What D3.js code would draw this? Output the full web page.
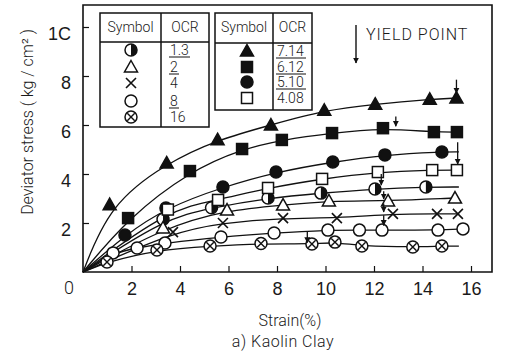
<!DOCTYPE html>
<html>
<head>
<meta charset="utf-8">
<script src="https://cdn.jsdelivr.net/npm/d3@7"></script>
<style>
  html, body { margin: 0; padding: 0; background: #fff; }
  svg { display: block; font-family: Roboto, "Liberation Sans", Arial, sans-serif; font-weight: 300; }
</style>
</head>
<body>
<svg id="chart" width="507" height="352"></svg>
<script>
// Axis ticks
const xTicks = [2, 4, 6, 8, 10, 12, 14, 16];
const yTicks = [2, 4, 6, 8, 10];
const yTickLabels = ["2", "4", "6", "8", "1C"];

// Series: OCR label, marker type, strain (%) and deviator stress (kg/cm²)
const ocrLabels = ["1.3", "2", "4", "8", "16", "7.14", "6.12", "5.10", "4.08"];
const markerTypes = ["half", "openTri", "cross", "openCircle", "crossCircle",
                     "filledTri", "filledSquare", "filledCircle", "openSquare"];

const strain_13   = [3.3, 5.3, 7.63, 9.81, 12.04, 14.14];
const stress_13   = [2.15, 2.62, 3.02, 3.22, 3.39, 3.47];
const strain_2    = [3.3, 5.94, 8.25, 10.14, 12.58, 15.34];
const stress_2    = [1.8, 2.53, 2.73, 2.9, 2.9, 3.02];
const strain_4    = [3.71, 5.77, 8.25, 10.47, 12.78, 14.6, 15.46];
const stress_4    = [1.63, 2.0, 2.2, 2.2, 2.37, 2.37, 2.37];
const strain_8    = [1.24, 2.23, 3.38, 5.69, 7.88, 10.1, 11.4, 12.33, 14.64, 15.67];
const stress_8    = [0.78, 0.98, 1.18, 1.43, 1.59, 1.71, 1.71, 1.71, 1.71, 1.76];
const strain_16   = [0.99, 3.05, 5.24, 7.34, 9.44, 10.39, 11.5, 13.6, 14.8];
const stress_16   = [0.41, 0.9, 1.06, 1.16, 1.14, 1.22, 1.06, 1.02, 1.06];
const strain_714  = [1.1, 3.45, 5.55, 7.75, 9.95, 12.05, 14.3, 15.4];
const stress_714  = [2.75, 4.45, 5.4, 6.0, 6.6, 6.85, 7.05, 7.1];
const strain_612  = [1.86, 4.41, 6.56, 8.2, 10.27, 12.37, 14.47, 15.42];
const stress_612  = [2.2, 4.12, 5.02, 5.39, 5.67, 5.87, 5.71, 5.71];
const strain_510  = [1.73, 3.42, 5.77, 7.96, 10.3, 12.45, 14.8];
const stress_510  = [1.51, 2.61, 3.47, 4.08, 4.49, 4.78, 4.9];
const strain_408  = [3.5, 5.57, 7.63, 9.86, 12.16, 14.4, 15.42];
const stress_408  = [2.55, 2.94, 3.43, 3.8, 4.08, 4.16, 4.16];

const strains  = [strain_13, strain_2, strain_4, strain_8, strain_16, strain_714, strain_612, strain_510, strain_408];
const stresses = [stress_13, stress_2, stress_4, stress_8, stress_16, stress_714, stress_612, stress_510, stress_408];

// Yield point arrows: strain, stress at tail, stress at head
const yieldX    = [15.4, 12.9, 15.45, 12.3, 12.4, 12.4, 12.4, 9.25];
const yieldFrom = [7.85, 6.35, 5.3, 4.0, 3.3, 2.8, 2.32, 1.65];
const yieldTo   = [7.3, 5.95, 4.4, 3.55, 2.98, 2.45, 1.9, 1.2];

const svg = d3.select("#chart");
const x = d3.scaleLinear().domain([0, 16]).range([83, 471]);
const y = d3.scaleLinear().domain([0, 10]).range([272, 27]);
const ink = "#111";
const txt = "#1a1a1a";

svg.append("defs").append("marker")
  .attr("id", "arrowhead").attr("viewBox", "0 0 10 10")
  .attr("refX", 9).attr("refY", 5)
  .attr("markerWidth", 6).attr("markerHeight", 7)
  .attr("markerUnits", "userSpaceOnUse")
  .attr("orient", "auto")
  .append("path").attr("d", "M0,0 L10,5 L0,10 Z").attr("fill", ink);

// Frame
svg.append("path")
  .attr("d", `M${x(0)},${y(0)} V5 H492 V${y(0)} Z`)
  .attr("fill", "none").attr("stroke", ink).attr("stroke-width", 1.6);

// Axes with inward ticks
const xAxis = d3.axisBottom(x).tickValues(xTicks).tickSizeInner(-6).tickSizeOuter(0).tickPadding(10);
const gx = svg.append("g").attr("transform", `translate(0,${y(0)})`).call(xAxis);
gx.select(".domain").remove();
gx.selectAll("line").attr("stroke", ink).attr("stroke-width", 1.2);
gx.selectAll("text").attr("font-size", 18).attr("fill", txt).attr("font-family", null);

const yAxis = d3.axisLeft(y).tickValues(yTicks).tickFormat((d, i) => yTickLabels[i])
  .tickSizeInner(-6).tickSizeOuter(0).tickPadding(12);
const gy = svg.append("g").attr("transform", `translate(${x(0)},0)`).call(yAxis);
gy.select(".domain").remove();
gy.selectAll("line").attr("stroke", ink).attr("stroke-width", 1.2);
gy.selectAll("text").attr("font-size", 18).attr("fill", txt).attr("dy", "0.7em")
  .attr("font-family", null);

svg.append("text").attr("x", 69).attr("y", 294).attr("text-anchor", "middle")
  .attr("font-size", 18).attr("fill", txt).text("0");

// Axis titles
svg.append("text")
  .attr("transform", "translate(33,122) rotate(-90)")
  .attr("text-anchor", "middle").attr("font-size", 16).attr("fill", txt)
  .text("Deviator stress ( kg / cm² )");
svg.append("text").attr("x", 290).attr("y", 326).attr("text-anchor", "middle")
  .attr("font-size", 16).attr("fill", txt).text("Strain(%)");
svg.append("text").attr("x", 283).attr("y", 347).attr("text-anchor", "middle")
  .attr("font-size", 16).attr("fill", txt).attr("letter-spacing", 0.5).text("a)  Kaolin Clay");

// Marker drawing
function drawMarker(g, type, cx, cy) {
  const r = 6;
  if (type === "filledCircle" || type === "openCircle") {
    g.append("circle").attr("cx", cx).attr("cy", cy).attr("r", r)
      .attr("fill", type === "filledCircle" ? ink : "#fff").attr("stroke", ink).attr("stroke-width", 1.5);
  } else if (type === "half") {
    g.append("circle").attr("cx", cx).attr("cy", cy).attr("r", r)
      .attr("fill", "#fff").attr("stroke", ink).attr("stroke-width", 1.5);
    g.append("path").attr("d", `M${cx},${cy - r} A${r},${r} 0 0 1 ${cx},${cy + r} Z`).attr("fill", ink);
  } else if (type === "crossCircle") {
    const k = r * 0.62;
    g.append("circle").attr("cx", cx).attr("cy", cy).attr("r", r)
      .attr("fill", "#fff").attr("stroke", ink).attr("stroke-width", 1.5);
    g.append("path").attr("d", `M${cx - k},${cy - k}L${cx + k},${cy + k}M${cx + k},${cy - k}L${cx - k},${cy + k}`)
      .attr("stroke", ink).attr("stroke-width", 1.4);
  } else if (type === "filledTri" || type === "openTri") {
    g.append("path").attr("d", `M${cx},${cy - 6.5}L${cx + 6.5},${cy + 5}L${cx - 6.5},${cy + 5}Z`)
      .attr("fill", type === "filledTri" ? ink : "#fff").attr("stroke", ink).attr("stroke-width", 1.5);
  } else if (type === "filledSquare" || type === "openSquare") {
    g.append("rect").attr("x", cx - 5.5).attr("y", cy - 5.5).attr("width", 11).attr("height", 11)
      .attr("fill", type === "filledSquare" ? ink : "#fff").attr("stroke", ink).attr("stroke-width", 1.5);
  } else if (type === "cross") {
    g.append("path").attr("d", `M${cx - 5},${cy - 5}L${cx + 5},${cy + 5}M${cx + 5},${cy - 5}L${cx - 5},${cy + 5}`)
      .attr("stroke", ink).attr("stroke-width", 1.6);
  }
}

// Smoothed curves from the origin through each series, run out to the end of testing
const lineEnd = 15.5;
const line = d3.line().x(d => x(d[0])).y(d => y(d[1])).curve(d3.curveBasis);
const curves = svg.append("g");
strains.forEach((xs, i) => {
  const pts = [[0, 0]].concat(xs.map((v, j) => [v, stresses[i][j]]));
  const last = pts[pts.length - 1];
  if (last[0] < lineEnd) pts.push([lineEnd, last[1]]);
  curves.append("path").attr("d", line(pts))
    .attr("fill", "none").attr("stroke", ink).attr("stroke-width", 1.3);
});

// Markers
const marks = svg.append("g");
strains.forEach((xs, i) => {
  xs.forEach((v, j) => drawMarker(marks, markerTypes[i], x(v), y(stresses[i][j])));
});

// Yield arrows
const arrows = svg.append("g");
yieldX.forEach((v, i) => {
  arrows.append("line")
    .attr("x1", x(v)).attr("x2", x(v))
    .attr("y1", y(yieldFrom[i])).attr("y2", y(yieldTo[i]))
    .attr("stroke", ink).attr("stroke-width", 1.3).attr("marker-end", "url(#arrowhead)");
});

// YIELD POINT key
svg.append("line").attr("x1", 356).attr("x2", 356).attr("y1", 25).attr("y2", 63)
  .attr("stroke", ink).attr("stroke-width", 1.4).attr("marker-end", "url(#arrowhead)");
svg.append("text").attr("x", 366).attr("y", 40).attr("font-size", 16)
  .attr("letter-spacing", 1).attr("fill", txt).text("YIELD POINT");

// Legend tables
function drawTable(spec) {
  const g = svg.append("g");
  g.append("rect").attr("x", spec.x0).attr("y", spec.y0)
    .attr("width", spec.x1 - spec.x0).attr("height", spec.y1 - spec.y0)
    .attr("fill", "#fff").attr("stroke", ink).attr("stroke-width", 1.5);
  g.append("line").attr("x1", spec.x0).attr("x2", spec.x1).attr("y1", spec.hy).attr("y2", spec.hy)
    .attr("stroke", ink).attr("stroke-width", 1.5);
  g.append("line").attr("x1", spec.xd).attr("x2", spec.xd).attr("y1", spec.y0).attr("y2", spec.y1)
    .attr("stroke", ink).attr("stroke-width", 1.5);
  g.append("text").attr("x", (spec.x0 + spec.xd) / 2).attr("y", spec.y0 + 19)
    .attr("text-anchor", "middle").attr("font-size", 14).attr("fill", txt).text("Symbol");
  g.append("text").attr("x", (spec.xd + spec.x1) / 2).attr("y", spec.y0 + 19)
    .attr("text-anchor", "middle").attr("font-size", 14).attr("fill", txt).text("OCR");
  spec.items.forEach((idx, k) => {
    const ry = spec.rows[k];
    drawMarker(g, markerTypes[idx], spec.sx, ry);
    g.append("text").attr("x", spec.tx).attr("y", ry + 5).attr("font-size", 14)
      .attr("fill", txt).text(ocrLabels[idx]);
    if (spec.under[k]) {
      g.append("line").attr("x1", spec.tx - 1).attr("x2", spec.tx + spec.under[k])
        .attr("y1", ry + 7).attr("y2", ry + 7).attr("stroke", ink).attr("stroke-width", 1);
    }
  });
}

drawTable({ x0: 100, x1: 209, y0: 13, y1: 127, hy: 42, xd: 161, sx: 131, tx: 170,
  items: [0, 1, 2, 3, 4], rows: [50, 67, 83, 101, 117], under: [20, 9, 0, 9, 0] });
drawTable({ x0: 215, x1: 312, y0: 13, y1: 110, hy: 43, xd: 273, sx: 247, tx: 277,
  items: [5, 6, 7, 8], rows: [51, 67, 82, 98], under: [29, 29, 29, 0] });
</script>
</body>
</html>
